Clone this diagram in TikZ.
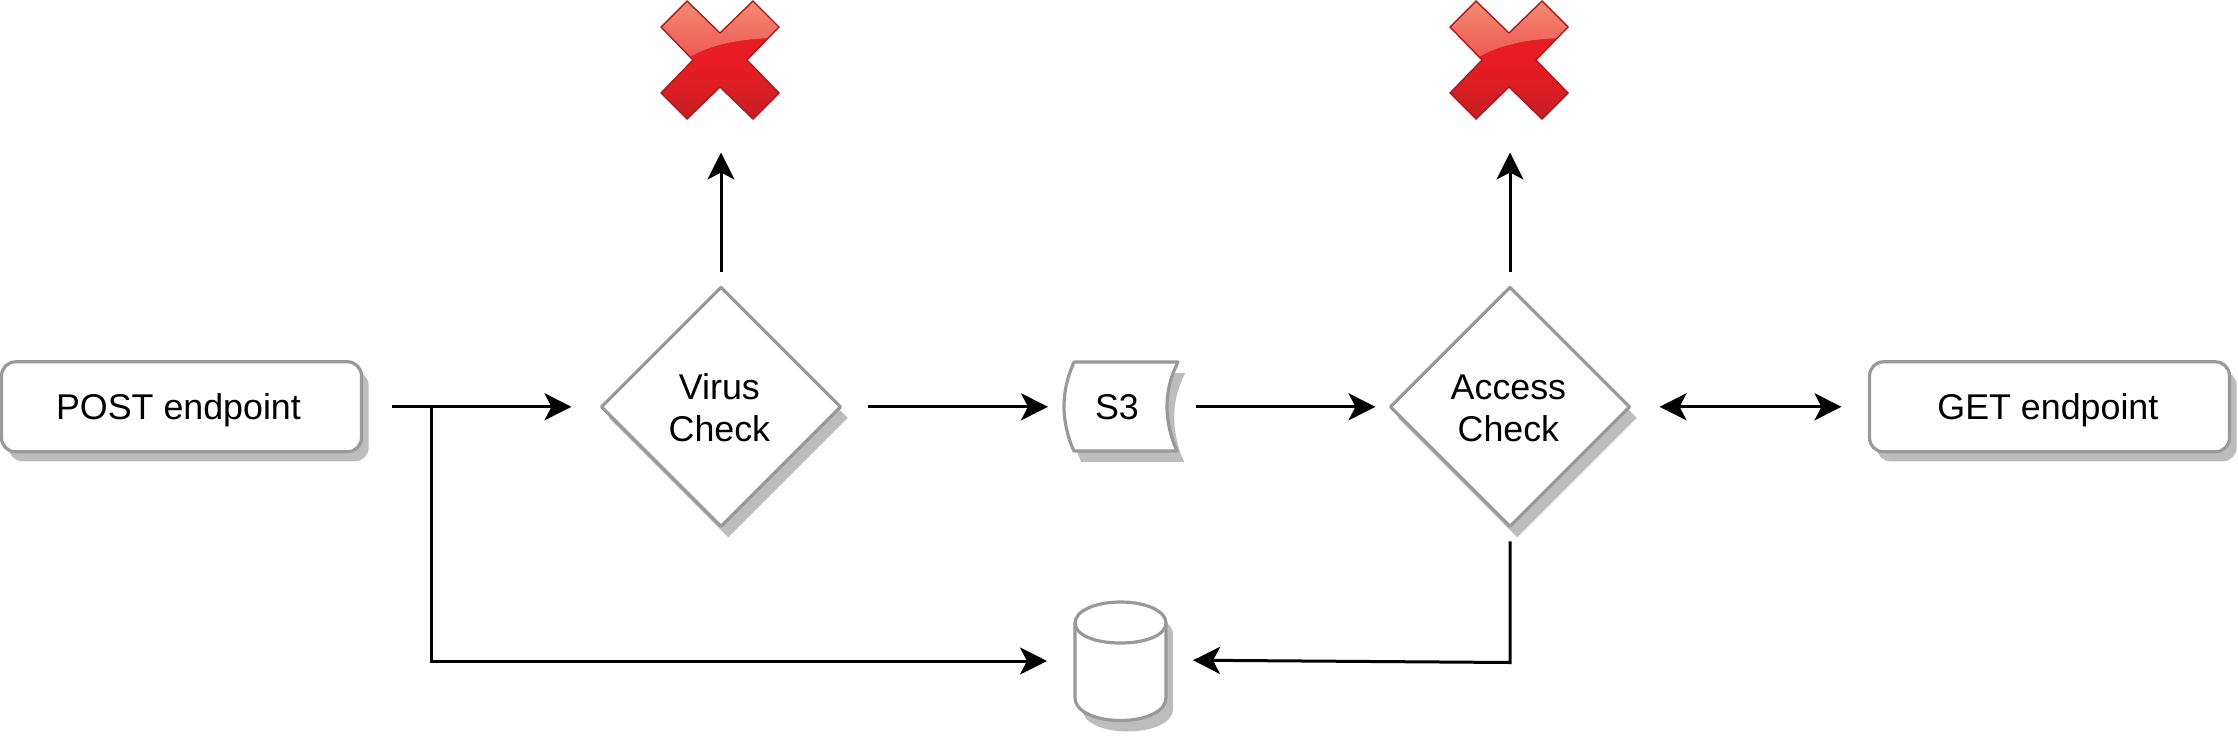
\documentclass[tikz,border=0pt]{standalone}
\usepackage{fontspec}
\setmainfont{Liberation Sans}
\usetikzlibrary{arrows.meta,shapes.geometric,shadows}
\definecolor{edgegray}{HTML}{999999}
\definecolor{shadowgray}{HTML}{BDBDBD}
\definecolor{crossedge}{HTML}{A81C20}
\definecolor{glosstop}{HTML}{F48C70}
\definecolor{glossbot}{HTML}{EC4A50}
\definecolor{redmid}{HTML}{E81C24}
\definecolor{redbot}{HTML}{C61E24}
\newcommand{\nudge}{\hspace*{1.6pt}}
\newcommand{\nudgewide}{\hspace*{3pt}}
\newcommand{\dropline}{\rule{0pt}{14.2pt}}
\tikzset{
  soft/.style={drop shadow={shadow xshift=3.6pt,shadow yshift=-4.8pt,fill=shadowgray,opacity=1}},
  softer/.style={drop shadow={shadow xshift=3.6pt,shadow yshift=-5.5pt,fill=shadowgray,opacity=1}},
  outline/.style={draw=edgegray,fill=white,line width=1.6pt,line join=round},
  textstyle/.style={font=\fontsize{17.9}{21}\selectfont,align=center,text=black},
  oneline/.style={text height=16pt,text depth=3.5pt},
  boxnode/.style={outline,soft,rounded corners=7pt,minimum width=180pt,minimum height=45pt,inner sep=0pt,outer sep=0pt,textstyle,oneline},
  decision/.style={outline,softer,shape=diamond,aspect=1,minimum width=119.5pt,minimum height=119.5pt,inner sep=0pt,outer sep=0pt,textstyle},
  anchorbox/.style={inner sep=0pt,outer sep=0pt,textstyle},
  conn/.style={line width=1.5pt,draw=black,-{Stealth[length=13.5pt,width=13.5pt,inset=3.5pt]}},
  both/.style={line width=1.5pt,draw=black,{Stealth[length=13.5pt,width=13.5pt,inset=3.5pt]}-{Stealth[length=13.5pt,width=13.5pt,inset=3.5pt]}},
  redcross/.pic={
    \begin{scope}
      \clip (-33,-59) -- (0,-27) -- (33,-59) -- (59,-33) -- (27,0) -- (59,33) -- (33,59) -- (0,27) -- (-33,59) -- (-59,33) -- (-27,0) -- (-59,-33) -- cycle;
      \fill[redmid] (-60,-60) rectangle (60,6);
      \shade[top color=redmid,bottom color=redbot] (-60,5) rectangle (60,60);
      \shade[top color=glosstop,bottom color=glossbot] (-60,-60) -- (60,-60) -- (60,-22) .. controls (20,-22) and (-10,-15) .. (-30,-3) -- (-60,12) -- cycle;
    \end{scope}
    \draw[crossedge,line width=.7pt,line join=miter] (-33,-59) -- (0,-27) -- (33,-59) -- (59,-33) -- (27,0) -- (59,33) -- (33,59) -- (0,27) -- (-33,59) -- (-59,33) -- (-27,0) -- (-59,-33) -- cycle;
  }
}
\begin{document}
\begin{tikzpicture}[x=0.5pt,y=-0.5pt]
\useasboundingbox (0,0) rectangle (2238,735);

% box-like nodes
\node[boxnode] (post) at (181.5,406.8) {POST endpoint\nudgewide};
\node[boxnode] (get) at (2049.5,406.8) {GET endpoint\nudge};
\node[decision] (virus) at (721,406.8) {\dropline Virus\nudge\\Check\nudge};
\node[decision] (access) at (1510,406.8) {\dropline Access\nudge\\Check\nudge};

% S3 (curved data store)
\path[outline,softer] (1074,362) -- (1178,362) .. controls (1170,378) and (1167,392) .. (1167,406.5) .. controls (1167,420) and (1170,436) .. (1177,451) -- (1074,451) .. controls (1067,436) and (1064,420) .. (1064,406.5) .. controls (1064,392) and (1067,378) .. (1074,362) -- cycle;
\node[anchorbox,oneline,minimum width=58pt,minimum height=45pt] (s3) at (1117,406.8) {S3};

% database cylinder
\path[outline,softer] (1075,623) .. controls (1075,611) and (1095,602) .. (1120.5,602) .. controls (1146,602) and (1166,611) .. (1166,623) -- (1166,698) .. controls (1166,711) and (1146,720.5) .. (1120.5,720.5) .. controls (1095,720.5) and (1075,711) .. (1075,698) -- cycle;
\draw[draw=edgegray,line width=1.6pt] (1075,623) .. controls (1075,635) and (1095,643) .. (1120.5,643) .. controls (1146,643) and (1166,635) .. (1166,623);
\node[anchorbox,minimum width=45.5pt,minimum height=59.5pt] (db) at (1120.5,661) {};

% reject crosses
\pic at (720,60) {redcross};
\pic at (1509,60) {redcross};
\node[anchorbox,minimum width=59pt,minimum height=59.5pt] (stopa) at (721,60) {};
\node[anchorbox,minimum width=59pt,minimum height=59.5pt] (stopb) at (1510,60) {};

% free ends
\coordinate (branch) at (431,406.8);
\coordinate (corner) at (1510,662.5);
\coordinate (dbin) at (1166,660);

% connectors
\draw[conn,shorten <=15pt,shorten >=15pt] (post) -- (virus);
\draw[conn,shorten >=14pt] (branch) |- (db.west);
\draw[conn,shorten <=13.5pt,shorten >=5.5pt] (virus) -- (s3);
\draw[conn,shorten <=10.5pt,shorten >=7.5pt] (s3) -- (access);
\draw[both,shorten <=15pt,shorten >=14pt] (access) -- (get);
\draw[conn,shorten <=7.5pt,shorten >=16.5pt] (virus) -- (stopa);
\draw[conn,shorten <=7.5pt,shorten >=16.5pt] (access) -- (stopb);
\draw[conn,shorten <=7.5pt,shorten >=13.5pt] (access) -- (corner) -- (dbin);
\end{tikzpicture}
\end{document}
